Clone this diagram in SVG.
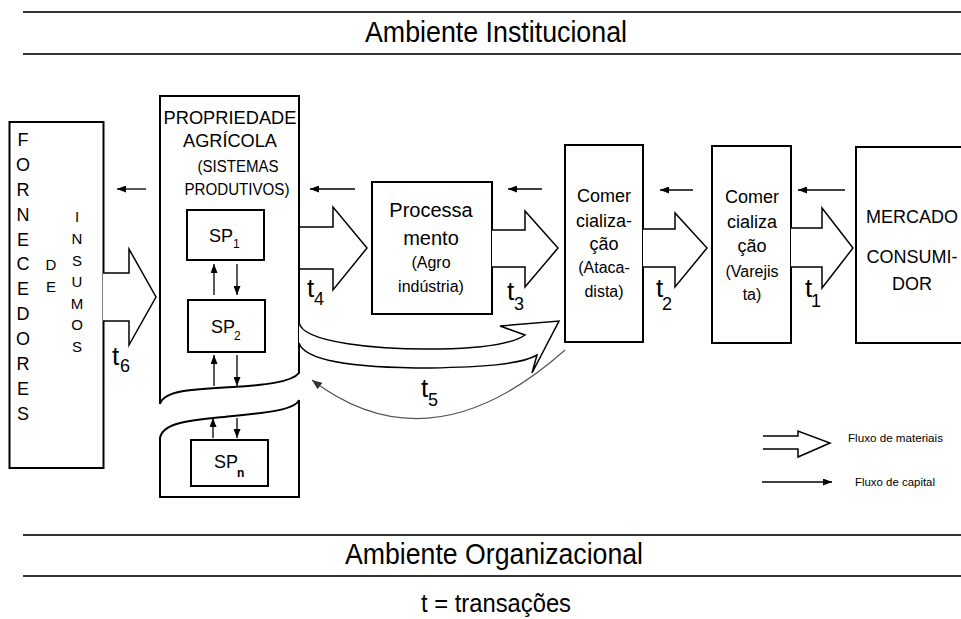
<svg xmlns="http://www.w3.org/2000/svg" width="961" height="619" viewBox="0 0 961 619">
<defs>
<marker id="ah" markerUnits="userSpaceOnUse" markerWidth="9" markerHeight="7" refX="9" refY="3.5" orient="auto"><path d="M0,0 L9,3.5 L0,7 Z" fill="#000"/></marker>
<marker id="ahg" markerUnits="userSpaceOnUse" markerWidth="10" markerHeight="8" refX="10" refY="4" orient="auto"><path d="M0,0 L10,4 L0,8 Z" fill="#333"/></marker>
</defs>
<style>
text{font-family:"Liberation Sans",Arial,sans-serif;fill:#000}
.rule{stroke:#333;stroke-width:2;fill:none}
.box{fill:#fff;stroke:#000;stroke-width:2}
.big{fill:#fff;stroke:#000;stroke-width:1.5;stroke-linejoin:miter}
.cap{stroke:#000;stroke-width:1.3;fill:none;marker-end:url(#ah)}
.hd{font-size:30px;text-anchor:middle}
.v18{font-size:18px;text-anchor:middle}
.v15{font-size:15px;text-anchor:middle}
.m{font-size:18px;text-anchor:middle}
.s{font-size:16px;text-anchor:middle}
.t{font-size:26px}
.sub{font-size:18px}
.sp{font-size:18px}
.spsub{font-size:12px}
.lg{font-size:11.5px}
</style>

<g id="rules">
<line class="rule" x1="23" y1="12" x2="961" y2="12"/>
<line class="rule" x1="23" y1="54" x2="961" y2="54"/>
<line class="rule" x1="23" y1="535" x2="961" y2="535"/>
<line class="rule" x1="23" y1="576" x2="961" y2="576"/>
<text class="hd" x="496" y="42" textLength="262" lengthAdjust="spacingAndGlyphs">Ambiente Institucional</text>
<text class="hd" x="494" y="564" textLength="298" lengthAdjust="spacingAndGlyphs">Ambiente Organizacional</text>
<text class="hd" x="496" y="612" style="font-size:26px" textLength="150" lengthAdjust="spacingAndGlyphs">t = transações</text>
</g>

<g id="fornecedores">
<rect class="box" x="9.5" y="122" width="94" height="346"/>
<text class="v18" x="23" y="146">F</text>
<text class="v18" x="23" y="171">O</text>
<text class="v18" x="23" y="196">R</text>
<text class="v18" x="23" y="221">N</text>
<text class="v18" x="23" y="246">E</text>
<text class="v18" x="23" y="270">C</text>
<text class="v18" x="23" y="295">E</text>
<text class="v18" x="23" y="320">D</text>
<text class="v18" x="23" y="345">O</text>
<text class="v18" x="23" y="370">R</text>
<text class="v18" x="23" y="395">E</text>
<text class="v18" x="23" y="420">S</text>
<text class="v15" x="51" y="270">D</text>
<text class="v15" x="51" y="292">E</text>
<text class="v15" x="77" y="222">I</text>
<text class="v15" x="77" y="244">N</text>
<text class="v15" x="77" y="266">S</text>
<text class="v15" x="77" y="287">U</text>
<text class="v15" x="77" y="309">M</text>
<text class="v15" x="77" y="330">O</text>
<text class="v15" x="77" y="352">S</text>
</g>

<g id="propriedade">
<path class="box" d="M160,404 L160,96 L299,96 L299,373 C292,382 265,385 233,387 C195,389 164,390 160,404 Z"/>
<path class="box" d="M299,400 L299,497 L160,497 L160,438 C163,421 195,420 233,416 C265,413 295,410 299,400 Z"/>
<text x="230" y="124" style="font-size:18px;text-anchor:middle" textLength="133" lengthAdjust="spacingAndGlyphs">PROPRIEDADE</text>
<text x="230" y="147" style="font-size:18px;text-anchor:middle" textLength="94" lengthAdjust="spacingAndGlyphs">AGRÍCOLA</text>
<text x="238" y="172" style="font-size:16px;text-anchor:middle" textLength="81" lengthAdjust="spacingAndGlyphs">(SISTEMAS</text>
<text x="237" y="195" style="font-size:16px;text-anchor:middle" textLength="105" lengthAdjust="spacingAndGlyphs">PRODUTIVOS)</text>
</g>

<g id="sp1">
<rect class="box" x="187" y="210" width="77" height="50"/>
<text class="sp" x="209" y="242">SP</text><text class="spsub" x="233" y="248">1</text>
</g>
<g id="sp2">
<rect class="box" x="188" y="300" width="77" height="52"/>
<text class="sp" x="211" y="333">SP</text><text class="spsub" x="234" y="340">2</text>
</g>
<g id="spn">
<rect class="box" x="191" y="440" width="77" height="46"/>
<text class="sp" x="214" y="468">SP</text><text class="spsub" x="237" y="477" font-weight="bold">n</text>
</g>

<g id="processamento">
<rect class="box" x="372" y="182" width="120" height="132"/>
<text x="431" y="217" style="font-size:20px;text-anchor:middle">Processa</text>
<text x="431" y="245" style="font-size:20px;text-anchor:middle">mento</text>
<text class="s" x="431" y="268">(Agro</text>
<text class="s" x="431" y="292">indústria)</text>
</g>

<g id="atacadista">
<rect class="box" x="565" y="145" width="78" height="197"/>
<text class="m" x="604" y="202">Comer</text>
<text class="m" x="604" y="227">cializa-</text>
<text class="m" x="604" y="250">ção</text>
<text class="s" x="604" y="273">(Ataca-</text>
<text class="s" x="604" y="297">dista)</text>
</g>

<g id="varejista">
<rect class="box" x="712" y="146" width="79" height="197"/>
<text class="m" x="752" y="203">Comer</text>
<text class="m" x="752" y="228">cializa</text>
<text class="m" x="752" y="252">ção</text>
<text class="s" x="752" y="277">(Varejis</text>
<text class="s" x="752" y="300">ta)</text>
</g>

<g id="mercado">
<rect class="box" x="856" y="147" width="107" height="196"/>
<text class="m" x="912" y="223">MERCADO</text>
<text class="m" x="912" y="263">CONSUMI-</text>
<text class="m" x="912" y="290">DOR</text>
</g>

<g id="connectors">
<path class="big" d="M103,273 L129,273 L129,249 L156,297 L129,345 L129,321 L103,321"/>
<path class="big" d="M300,227 L333,227 L333,207 L367,248 L333,290 L333,269 L300,269"/>
<path class="big" d="M492,230 L525,230 L525,211 L558,248 L525,287 L525,267 L492,267"/>
<path class="big" d="M643,229 L675,229 L675,213 L707,248 L675,287 L675,267 L643,267"/>
<path class="big" d="M791,228 L822,228 L822,208 L853,248 L822,288 L822,267 L791,267"/>
<path class="big" d="M299,322 C301,343 380,350 440,349 C490,348 515,342 525,335 L500,326 L559,321 L532,373 L537,355 C520,365 480,367 430,368 C360,368 305,362 299,343"/>
<path d="M565,350 Q430,470 312,380" fill="none" stroke="#555" stroke-width="1.2" marker-end="url(#ahg)"/>
<line class="cap" x1="146" y1="189" x2="117" y2="189"/>
<line class="cap" x1="355" y1="189" x2="310" y2="189"/>
<line class="cap" x1="542" y1="189" x2="508" y2="189"/>
<line class="cap" x1="693" y1="190" x2="660" y2="190"/>
<line class="cap" x1="845" y1="190" x2="798" y2="190"/>
<line class="cap" x1="214" y1="295" x2="214" y2="264"/>
<line class="cap" x1="237" y1="264" x2="237" y2="295"/>
<line class="cap" x1="214" y1="386" x2="214" y2="355"/>
<line class="cap" x1="237" y1="355" x2="237" y2="386"/>
<line class="cap" x1="213" y1="438" x2="213" y2="418"/>
<line class="cap" x1="237" y1="418" x2="237" y2="438"/>
</g>

<g id="labels">
<text class="t" x="112" y="365">t</text><text class="sub" x="120" y="372">6</text>
<text class="t" x="307" y="297">t</text><text class="sub" x="314" y="305">4</text>
<text class="t" x="507" y="300">t</text><text class="sub" x="514" y="310">3</text>
<text class="t" x="656" y="297">t</text><text class="sub" x="662" y="310">2</text>
<text class="t" x="805" y="297">t</text><text class="sub" x="811" y="307">1</text>
<text class="t" x="421" y="397">t</text><text class="sub" x="428" y="406">5</text>
</g>

<g id="legend">
<path class="big" d="M763,436 L798,436 L798,431 L830,443 L798,457 L798,449 L763,449"/>
<text class="lg" x="848" y="442" textLength="95" lengthAdjust="spacingAndGlyphs">Fluxo de materiais</text>
<line class="cap" x1="762" y1="482" x2="832" y2="482"/>
<text class="lg" x="855" y="486" textLength="80" lengthAdjust="spacingAndGlyphs">Fluxo de capital</text>
</g>
</svg>
